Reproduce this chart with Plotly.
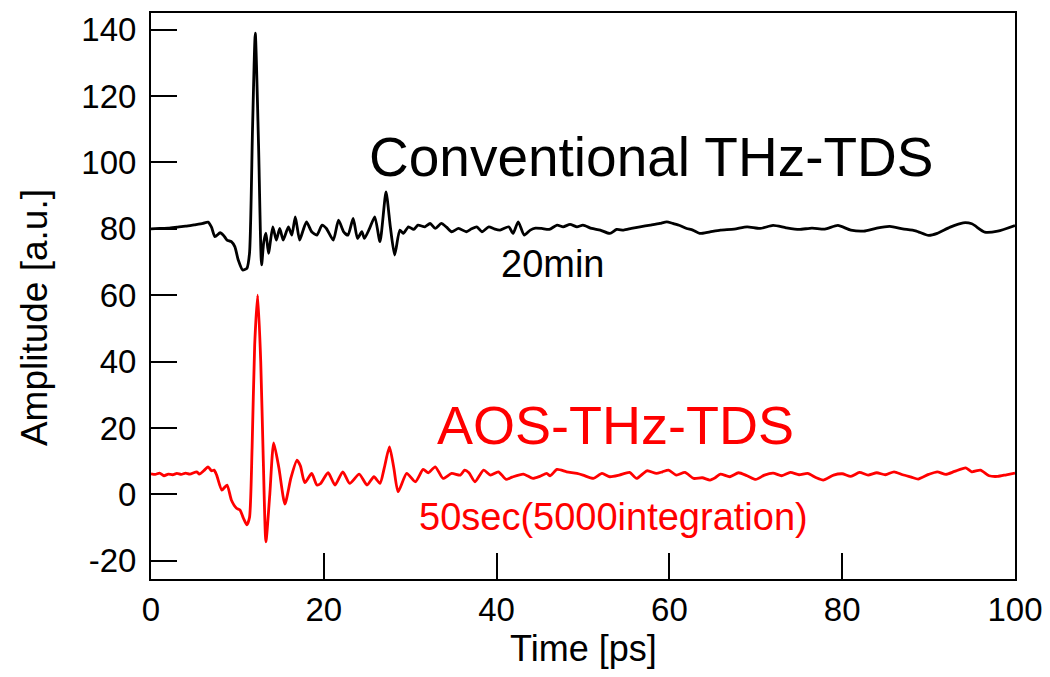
import plotly.graph_objects as go

# ---- Conventional THz-TDS (black) ----
t_conv = [0, 1, 2, 3, 4, 5, 6, 6.6, 7.0, 7.4, 8.0, 8.4, 8.8, 9.3, 9.7, 10.1, 10.6, 11.1, 11.4,
          11.75, 12.07, 12.45, 12.8, 13.05, 13.3, 13.6, 14.1, 14.5, 14.9, 15.3, 15.9, 16.3, 16.7,
          17.2, 17.6, 18.0, 18.6, 19.2, 19.8, 20.3, 21.1, 21.7, 22.3, 22.8, 23.4, 23.9, 24.4,
          24.7, 25.3, 25.9, 26.5, 27.2, 27.7, 28.2, 28.8, 29.2, 29.8, 30.4, 30.9, 31.7, 32.3,
          32.9, 33.6, 34.2, 34.8, 35.6, 36.5, 37.1, 37.7, 38.3, 39.1, 39.7, 40.4, 41.4, 41.9,
          42.5, 43.2, 43.9, 44.5, 45.2, 46.1, 47.0, 47.7, 48.5, 49.3, 50.0, 51.0, 52.0, 53.1,
          53.9, 54.7, 55.6, 56.6, 57.8, 58.9, 59.7, 60.4, 61.2, 62.0, 62.7, 63.5, 64.7, 65.9,
          67.5, 69.0, 70.5, 72.0, 73.5, 75.0, 76.5, 78.0, 79.5, 81.0, 82.5, 84.0, 85.5, 87.0,
          88.5, 90.0, 91.0, 92.5, 94.0, 95.0, 96.5, 98.0, 100]
a_conv = [80.0, 80.1, 80.2, 80.5, 80.8, 81.2, 81.6, 82.0, 80.5, 77.6, 78.8, 78.0, 76.6, 76.1, 74.6,
          70.6, 67.6, 68.1, 72.6,
          110.0, 138.9, 105.0, 69.1, 76.0, 78.7, 72.6, 80.6, 76.6, 80.1, 76.6, 80.6, 78.1, 83.6,
          76.6, 79.5, 82.1, 79.1, 78.1, 81.1, 80.1, 76.6, 82.6, 79.1, 78.1, 83.1, 77.1, 79.1,
          77.1, 80.1, 83.6, 76.1, 91.1, 80.6, 72.1, 79.6, 78.6, 80.6, 79.8, 81.1, 80.6, 81.6,
          80.1, 81.6, 80.5, 79.1, 80.1, 79.1, 80.0, 80.6, 79.1, 80.6, 80.0, 79.6, 80.6, 78.6,
          82.1, 78.1, 79.6, 80.2, 80.1, 79.8, 81.1, 80.6, 81.3, 80.6, 81.1, 80.1, 79.6, 78.6,
          79.8, 79.6, 80.1, 80.6, 81.1, 81.6, 82.1, 81.6, 81.0, 80.1, 79.6, 78.6, 79.1, 79.6,
          79.9, 80.6, 80.1, 81.0, 80.3, 79.8, 80.2, 79.9, 81.0, 79.6, 79.3, 80.2, 80.7, 80.0,
          79.4, 78.0, 78.6, 80.5, 81.8, 81.5, 79.0, 79.3, 81.0]

# ---- AOS-THz-TDS (red) ----
t_aos = [0, 0.5, 1.0, 1.5, 2.0, 2.5, 3.0, 3.5, 4.0, 4.5, 5.3, 5.6, 6.1, 6.6, 7.0, 7.3, 7.6, 8.2,
         8.8, 9.3, 9.9, 10.3, 10.7, 11.1, 11.4, 11.7, 12.0, 12.35, 12.7, 13.0, 13.3, 13.75, 14.2,
         14.8, 15.5, 16.2, 16.9, 17.3, 17.8, 18.6, 19.2, 19.6, 20.5, 21.3, 22.2, 23.0, 24.1,
         25.0, 25.8, 26.5, 27.0, 27.6, 28.1, 28.6, 29.6, 30.6, 31.5, 32.1, 32.9, 33.8, 34.8,
         35.8, 36.3, 36.8, 37.5, 38.5, 39.3, 40.2, 41.1, 41.8, 43.1, 44.2, 45.0, 45.8, 46.2,
         47.0, 48.1, 49.3, 50.0, 51.2, 52.2, 53.1, 54.2, 55.4, 56.2, 57.4, 58.5, 59.2, 59.9,
         60.8, 61.8, 62.8, 63.8, 64.7, 65.3, 65.9, 67.0, 68.0, 69.0, 70.0, 71.0, 72.0, 73.0,
         74.0, 75.0, 76.0, 77.0, 77.8, 79.0, 80.0, 81.0, 82.0, 83.0, 84.0, 85.0, 86.0, 87.0,
         88.0, 88.8, 90.0, 91.0, 92.0, 93.0, 94.3, 95.0, 96.0, 97.0, 98.0, 99.0, 100]
a_aos = [6.2, 6.0, 6.4, 5.6, 6.1, 5.9, 6.3, 6.0, 6.4, 6.1, 6.8, 6.1, 7.1, 8.3, 7.1, 7.3, 5.8, 1.3,
         2.8, -1.7, -4.2, -4.7, -7.2, -9.2, -7.0, 14.0, 45.0, 60.0, 40.0, 10.0, -14.3, 0.0, 15.5,
         8.0, -2.9, 5.0, 10.3, 8.5, 3.5, 6.3, 2.8, 3.2, 6.5, 2.8, 6.8, 3.3, 6.1,
         2.8, 5.3, 3.3, 8.0, 14.3, 8.0, 0.8, 6.3, 3.8, 7.5, 6.5, 8.3, 4.8, 6.3,
         5.8, 7.3, 6.5, 3.8, 7.3, 5.8, 6.8, 4.5, 5.2, 6.1, 4.8, 5.4, 6.3, 5.6,
         7.5, 6.8, 6.3, 5.8, 4.8, 6.3, 5.3, 5.8, 6.6, 4.8, 7.1, 6.3, 6.8, 7.3,
         5.8, 6.6, 4.8, 5.0, 4.3, 5.0, 6.1, 5.3, 6.5, 5.6, 4.5, 5.8, 6.4, 5.6,
         6.6, 5.9, 6.3, 5.0, 4.3, 5.8, 6.2, 5.4, 6.6, 5.8, 6.5, 5.9, 6.8, 5.9,
         5.2, 4.6, 6.0, 6.8, 6.0, 6.9, 8.0, 6.8, 7.3, 5.6, 5.4, 5.9, 6.4]

x_ticks = [0, 20, 40, 60, 80, 100]
x_labels = ["0", "20", "40", "60", "80", "100"]
y_ticks = [-20, 0, 20, 40, 60, 80, 100, 120, 140]
y_labels = ["-20", "0", "20", "40", "60", "80", "100", "120", "140"]

FONT = "Liberation Sans, Arial, sans-serif"

fig = go.Figure()
fig.add_trace(go.Scatter(x=t_conv, y=a_conv, mode="lines",
                         line=dict(color="black", width=2.8, shape="spline", smoothing=0.6),
                         showlegend=False, hoverinfo="skip"))
fig.add_trace(go.Scatter(x=t_aos, y=a_aos, mode="lines",
                         line=dict(color="#ff0000", width=2.8, shape="spline", smoothing=0.6),
                         showlegend=False, hoverinfo="skip"))

fig.update_layout(
    width=1042, height=669,
    margin=dict(l=143, r=35, t=5, b=98),
    paper_bgcolor="white", plot_bgcolor="white",
    font=dict(family=FONT, color="black"),
    xaxis=dict(range=[0, 100], tickvals=x_ticks, ticktext=x_labels, ticks="inside", ticklen=26,
               tickwidth=2, tickcolor="black", showline=True, linecolor="black", linewidth=2,
               mirror=True, showgrid=False, zeroline=False, automargin=False,
               tickfont=dict(size=33, family=FONT), ticklabelstandoff=0),
    yaxis=dict(range=[-25.5, 145], tickvals=y_ticks, ticktext=y_labels, ticks="inside", ticklen=26,
               tickwidth=2, tickcolor="black", showline=True, linecolor="black", linewidth=2,
               mirror=True, showgrid=False, zeroline=False, automargin=False,
               tickfont=dict(size=33, family=FONT), ticklabelstandoff=6),
    annotations=[
        dict(text="Amplitude [a.u.]", xref="paper", yref="paper", x=-0.1354, y=0.461,
             textangle=-90, showarrow=False, font=dict(size=37, family=FONT),
             xanchor="center", yanchor="middle"),
        dict(text="Time [ps]", xref="paper", yref="paper", x=0.5, y=-0.122,
             showarrow=False, font=dict(size=36, family=FONT),
             xanchor="center", yanchor="middle"),
        dict(text="Conventional THz-TDS", xref="x", yref="y", x=57.9, y=101.6,
             showarrow=False, font=dict(size=55, family=FONT, color="black"),
             xanchor="center", yanchor="middle"),
        dict(text="20min", xref="x", yref="y", x=46.5, y=69.4,
             showarrow=False, font=dict(size=38, family=FONT, color="black"),
             xanchor="center", yanchor="middle"),
        dict(text="AOS-THz-TDS", xref="x", yref="y", x=53.8, y=20.9,
             showarrow=False, font=dict(size=54, family=FONT, color="#ff0000"),
             xanchor="center", yanchor="middle"),
        dict(text="50sec(5000integration)", xref="x", yref="y", x=53.5, y=-6.7,
             showarrow=False, font=dict(size=38, family=FONT, color="#ff0000"),
             xanchor="center", yanchor="middle"),
    ],
)

fig.write_html("out.html")
